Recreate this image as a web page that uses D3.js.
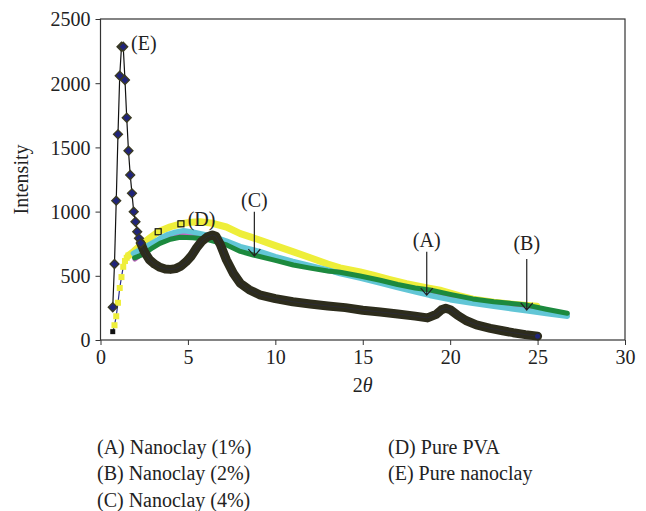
<!DOCTYPE html>
<html>
<head>
<meta charset="utf-8">
<script src="https://cdn.jsdelivr.net/npm/d3@7/dist/d3.min.js"></script>
<style>
  body { margin: 0; background: #fff; }
  svg text { font-family: "Liberation Serif", "DejaVu Serif", serif; fill: #222; }
</style>
</head>
<body>
<div id="chart"></div>
<script>
// (E) pure nanoclay, low angle points drawn one by one
const pureClaySparse = [
  [0.7, 255], [0.8, 592], [0.9, 1085], [1.0, 1602], [1.1, 2058], [1.2, 2284],
  [1.3, 2284], [1.4, 2025], [1.5, 1731], [1.6, 1474], [1.7, 1285], [1.8, 1142],
  [1.9, 999], [2.0, 921], [2.1, 843], [2.2, 792], [2.3, 755]
];
// (E) pure nanoclay, dense part (looks like a thick band)
const pureClayDense = [
  [2.3, 755], [2.5, 690], [2.8, 625], [3.1, 590], [3.4, 566], [3.7, 553], [4.0, 550],
  [4.3, 556], [4.6, 575], [4.9, 610], [5.2, 655], [5.5, 718], [5.8, 770], [6.1, 803],
  [6.4, 818], [6.6, 808], [6.85, 745], [7.2, 625], [7.6, 519], [8.0, 441], [8.5, 392],
  [9.1, 352], [10, 322], [11, 298], [12, 280], [13, 265], [14, 252], [15, 232],
  [16, 218], [17, 203], [18, 186], [18.7, 172], [19.2, 200], [19.5, 235], [19.75, 247],
  [20.0, 236], [20.4, 195], [20.9, 152], [21.5, 118], [22.3, 91], [23, 72], [23.6, 57],
  [24.3, 42], [25.0, 30]
];
// (D) pure PVA
const pvaStart = [[0.7, 65]];
const pvaSparse = [
  [0.8, 115], [0.9, 185], [1.0, 290], [1.1, 405], [1.2, 490], [1.3, 570],
  [1.4, 615], [1.5, 640], [1.6, 658]
];
const pvaDense = [
  [1.6, 658], [1.9, 690], [2.3, 740], [2.8, 792], [3.3, 843], [4.0, 882], [4.6, 905],
  [5.2, 918], [5.7, 921], [6.3, 912], [7.2, 880], [8.0, 828], [9.1, 779], [10, 735],
  [11, 688], [12, 640], [13, 592], [13.7, 562], [14.85, 530], [15.6, 505], [16.5, 472],
  [17.5, 438], [18.7, 405], [19.5, 385], [20.5, 345], [21.3, 318], [22.5, 295],
  [23.7, 277], [24.95, 262]
];
const pvaOpenMarks = [[3.3, 843], [4.6, 905]];
// (A), (B), (C) nanoclay composites
const nanoGreen = [
  [1.95, 640], [2.45, 668], [3.0, 720], [3.4, 752], [4.0, 785], [4.55, 800], [5.3, 796],
  [6.07, 784], [6.6, 765], [7.22, 740], [8.0, 690], [8.74, 662], [10, 620], [11.03, 584],
  [12, 560], [13, 538], [13.7, 528], [14.85, 498], [16, 465], [17, 432], [18, 405],
  [18.85, 389], [20, 355], [21.3, 320], [22.5, 298], [23.5, 285], [24.38, 272],
  [25.5, 240], [26.7, 208]
];
const nanoMagenta = [
  [1.97, 630], [2.45, 680], [3.0, 740], [3.4, 770], [4.0, 805], [4.6, 820], [5.3, 815],
  [6.0, 800], [6.6, 780], [7.3, 752], [8.0, 705], [9.1, 670], [10, 632], [11, 598],
  [12, 568], [13, 540], [13.7, 525], [14.85, 490], [16, 452], [17, 418], [18, 388],
  [18.85, 366], [20, 332], [21.3, 300], [22.5, 277], [23.5, 262], [24.38, 248],
  [25.5, 222], [26.7, 196]
];
const nanoCyan = [
  [1.88, 675], [2.3, 705], [2.83, 745], [3.4, 790], [3.8, 818], [4.3, 840], [4.75, 852],
  [5.3, 840], [5.9, 822], [6.45, 805], [7.2, 770], [8.0, 727], [9.13, 688], [10, 650],
  [11, 612], [12, 578], [13, 546], [13.7, 518], [14.85, 482], [16, 443], [17, 408],
  [18, 376], [18.85, 347], [20, 314], [21.3, 286], [22.5, 262], [23.5, 244],
  [24.38, 228], [25.5, 206], [26.7, 185]
];

const xTicks = [0, 5, 10, 15, 20, 25, 30];
const yTicks = [0, 500, 1000, 1500, 2000, 2500];

const arrowNotes = [
  { label: "(A)", x: 18.66, from: 688, to: 350, labelY: 779 },
  { label: "(B)", x: 24.38, from: 631, to: 234, labelY: 753 },
  { label: "(C)", x: 8.8, from: 999, to: 654, labelY: 1090 }
];
const textNotes = [
  { label: "(D)", x: 5.78, y: 940 },
  { label: "(E)", x: 2.48, y: 2315 }
];
const legendLeft = ["(A) Nanoclay (1%)", "(B) Nanoclay (2%)", "(C) Nanoclay (4%)"];
const legendRight = ["(D) Pure PVA", "(E) Pure nanoclay"];

class XrdChart {
  constructor(_parentElement) {
    this.parentElement = _parentElement;
    this.initVis();
  }

  initVis() {
    const vis = this;
    vis.width = 646;
    vis.height = 511;

    vis.svg = d3
      .select(vis.parentElement)
      .append("svg")
      .attr("width", vis.width)
      .attr("height", vis.height);

    vis.x = d3.scaleLinear().domain([0, 30]).range([100.5, 625]);
    vis.y = d3.scaleLinear().domain([0, 2500]).range([340, 19]);

    vis.line = d3
      .line()
      .x((d) => vis.x(d[0]))
      .y((d) => vis.y(d[1]))
      .curve(d3.curveLinear);

    vis.drawAxes();
    vis.drawSeries();
    vis.drawNotes();
    vis.addLegend();
  }

  drawAxes() {
    const vis = this;

    const xAxis = d3
      .axisBottom(vis.x)
      .tickValues(xTicks)
      .tickFormat(d3.format("d"))
      .tickSize(5)
      .tickSizeOuter(0)
      .tickPadding(5);
    const gx = vis.svg
      .append("g")
      .attr("transform", `translate(0, ${vis.y(0)})`)
      .call(xAxis);
    gx.select(".domain").remove();
    gx.selectAll("line").attr("stroke", "#333");
    gx.selectAll("text").style("font-size", "20px").attr("fill", "#222");

    const yAxis = d3
      .axisLeft(vis.y)
      .tickValues(yTicks)
      .tickFormat(d3.format("d"))
      .tickSize(5)
      .tickSizeOuter(0)
      .tickPadding(5);
    const gy = vis.svg
      .append("g")
      .attr("transform", `translate(${vis.x(0)}, 0)`)
      .call(yAxis);
    gy.select(".domain").remove();
    gy.selectAll("line").attr("stroke", "#333");
    gy.selectAll("text")
      .style("font-size", "20px")
      .attr("fill", "#222")
      .attr("dy", "0.34em");

    // box round the plot
    vis.svg
      .append("rect")
      .attr("x", vis.x(0))
      .attr("y", vis.y(2500))
      .attr("width", vis.x(30) - vis.x(0))
      .attr("height", vis.y(0) - vis.y(2500))
      .attr("fill", "none")
      .attr("stroke", "#333")
      .attr("stroke-width", 1.2);

    vis.svg
      .append("text")
      .attr("transform", `translate(28, ${(vis.y(0) + vis.y(2500)) / 2}) rotate(-90)`)
      .attr("text-anchor", "middle")
      .style("font-size", "20px")
      .text("Intensity");

    const xt = vis.svg
      .append("text")
      .attr("x", (vis.x(0) + vis.x(30)) / 2)
      .attr("y", 392)
      .attr("text-anchor", "middle")
      .style("font-size", "20px");
    xt.append("tspan").text("2");
    xt.append("tspan").style("font-style", "italic").text("θ");
  }

  drawSeries() {
    const vis = this;
    const g = vis.svg.append("g").attr("class", "series");

    const band = (data, color, w) =>
      g.append("path")
        .datum(data)
        .attr("d", vis.line)
        .attr("fill", "none")
        .attr("stroke", color)
        .attr("stroke-width", w)
        .attr("stroke-linejoin", "round")
        .attr("stroke-linecap", "round");

    // pure PVA
    band(pvaStart.concat(pvaSparse), "#2b2f8a", 1.2);
    band(pvaDense, "#eeee3a", 7);
    g.selectAll("rect.pva")
      .data(pvaSparse)
      .enter()
      .append("rect")
      .attr("class", "pva")
      .attr("x", (d) => vis.x(d[0]) - 3)
      .attr("y", (d) => vis.y(d[1]) - 3)
      .attr("width", 6)
      .attr("height", 6)
      .attr("fill", "#eeee3a");
    g.selectAll("rect.pvaStart")
      .data(pvaStart)
      .enter()
      .append("rect")
      .attr("class", "pvaStart")
      .attr("x", (d) => vis.x(d[0]) - 2.5)
      .attr("y", (d) => vis.y(d[1]) - 2.5)
      .attr("width", 5)
      .attr("height", 5)
      .attr("fill", "#111");
    g.selectAll("rect.pvaOpen")
      .data(pvaOpenMarks)
      .enter()
      .append("rect")
      .attr("class", "pvaOpen")
      .attr("x", (d) => vis.x(d[0]) - 3)
      .attr("y", (d) => vis.y(d[1]) - 3)
      .attr("width", 6)
      .attr("height", 6)
      .attr("fill", "#eeee3a")
      .attr("stroke", "#111")
      .attr("stroke-width", 1.2);

    // nanoclay composites
    band(nanoMagenta, "#c464c4", 5);
    band(nanoCyan, "#62c6d6", 5.5);
    band(nanoGreen, "#1c8a3e", 5);

    // pure nanoclay
    band(pureClaySparse, "#111", 1.2);
    band(pureClayDense, "#2d2c1c", 9);
    band(pureClayDense, "#2a2a4a", 1).attr("opacity", 0.5);

    const diamond = d3.symbol().type(d3.symbolSquare).size(40);
    g.selectAll("path.clay")
      .data(pureClaySparse)
      .enter()
      .append("path")
      .attr("class", "clay")
      .attr("d", diamond)
      .attr("transform", (d) => `translate(${vis.x(d[0])}, ${vis.y(d[1])}) rotate(45)`)
      .attr("fill", "#20247a")
      .attr("stroke", "#3a3a22")
      .attr("stroke-width", 1.3);

    // last point of the dense part
    g.append("circle")
      .datum(pureClayDense[pureClayDense.length - 1])
      .attr("cx", (d) => vis.x(d[0]))
      .attr("cy", (d) => vis.y(d[1]))
      .attr("r", 2.5)
      .attr("fill", "#20247a");
  }

  drawNotes() {
    const vis = this;
    const notes = vis.svg.append("g").attr("class", "notes");

    const arrow = notes
      .selectAll("g.arrow")
      .data(arrowNotes)
      .enter()
      .append("g")
      .attr("class", "arrow");

    arrow
      .append("path")
      .attr("d", (d) => {
        const ax = vis.x(d.x);
        const y0 = vis.y(d.from);
        const y1 = vis.y(d.to);
        return `M${ax},${y0}V${y1}M${ax - 6},${y1 - 7}L${ax},${y1}L${ax + 6},${y1 - 7}`;
      })
      .attr("fill", "none")
      .attr("stroke", "#222")
      .attr("stroke-width", 1.2);

    arrow
      .append("text")
      .attr("x", (d) => vis.x(d.x))
      .attr("y", (d) => vis.y(d.labelY))
      .attr("dy", "0.34em")
      .attr("text-anchor", "middle")
      .style("font-size", "20px")
      .text((d) => d.label);

    notes
      .selectAll("text.note")
      .data(textNotes)
      .enter()
      .append("text")
      .attr("class", "note")
      .attr("x", (d) => vis.x(d.x))
      .attr("y", (d) => vis.y(d.y))
      .attr("dy", "0.34em")
      .attr("text-anchor", "middle")
      .style("font-size", "20px")
      .text((d) => d.label);
  }

  addLegend() {
    const vis = this;
    const legend = vis.svg.append("g").attr("class", "legends");

    const cols = [
      { x: 97, items: legendLeft },
      { x: 388, items: legendRight }
    ];

    cols.forEach((c) => {
      legend
        .selectAll(null)
        .data(c.items)
        .enter()
        .append("text")
        .attr("x", c.x)
        .attr("y", (d, i) => 447 + i * 26.5)
        .attr("dy", "0.34em")
        .style("font-size", "20px")
        .text((d) => d);
    });
  }
}

new XrdChart("#chart");
</script>
</body>
</html>
